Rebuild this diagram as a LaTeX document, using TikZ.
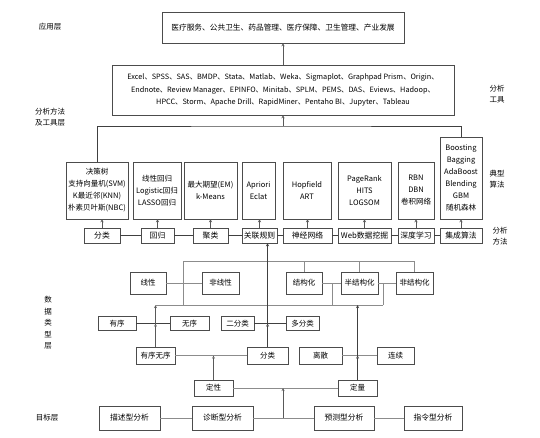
\documentclass[tikz,border=0pt]{standalone}
\usepackage{fontspec}
\setmainfont{Noto Sans CJK SC}
\usetikzlibrary{positioning}

\tikzset{
  box/.style={draw=black!70, fill=white, inner sep=1pt, align=center, font=\fontsize{7.5}{9}\selectfont},
  algbox/.style={box, minimum height=57pt, font=\fontsize{7.5}{12}\selectfont},
  methbox/.style={box, minimum height=15pt, font=\fontsize{7.8}{9}\selectfont},
  link/.style={draw=black!45},
  darklink/.style={draw=black!75},
  uparrow/.style={->, >=stealth, draw=black!65},
  layer/.style={align=center, font=\fontsize{7.5}{11.5}\selectfont},
}

\begin{document}
\begin{tikzpicture}[x=1pt, y=-1pt]
  \useasboundingbox (0,0) rectangle (540,437);

  % Application layer
  \node[box, minimum width=242pt, minimum height=31pt, font=\fontsize{7.7}{9}\selectfont] (app) at (283,27.5) {医疗服务、公共卫生、药品管理、医疗保障、卫生管理、产业发展};
  \node[layer] (lapp) at (50,27) {应用层};

  % Tools
  \node[box, minimum width=342pt, minimum height=50pt, font=\fontsize{7.3}{12.5}\selectfont] (tools) at (283,90)
    {Excel、SPSS、SAS、BMDP、Stata、Matlab、Weka、Sigmaplot、Graphpad Prism、Origin、\\
     Endnote、Review Manager、EPINFO、Minitab、SPLM、PEMS、DAS、Eviews、Hadoop、\\
     HPCC、Storm、Apache Drill、RapidMiner、Pentaho BI、Jupyter、Tableau};
  \node[layer] (ltools) at (497,94) {分析\\工具};
  \node[layer] (lmeth) at (50,117) {分析方法\\及工具层};
  \draw[uparrow] (tools.north) -- (app.south);

  % Typical algorithms
  \node[algbox, minimum width=62pt] (a1) at (97,190.5) {决策树\\支持向量机(SVM)\\K最近邻(KNN)\\朴素贝叶斯(NBC)};
  \node[algbox, minimum width=48pt] (a2) at (157,190.5) {线性回归\\Logistic回归\\LASSO回归};
  \node[algbox, minimum width=53pt] (a3) at (210.5,190.5) {最大期望(EM)\\k-Means};
  \node[algbox, minimum width=33pt] (a4) at (258.5,190.5) {Apriori\\Eclat};
  \node[algbox, minimum width=48pt] (a5) at (307,190.5) {Hopfield\\ART};
  \node[algbox, minimum width=53pt] (a6) at (364.5,190.5) {PageRank\\HITS\\LOGSOM};
  \node[algbox, minimum width=36pt] (a7) at (416,190.5) {RBN\\DBN\\卷积网络};
  \node[algbox, minimum width=42pt, minimum height=82pt] (a8) at (461,178) {Boosting\\Bagging\\AdaBoost\\Blending\\GBM\\随机森林};
  \node[layer] (lalg) at (497,179) {典型\\算法};

  % bus to tools
  \coordinate (bus) at (283,126);
  \draw[darklink] (a1.north) |- (bus) -| (a8.north);
  \draw[uparrow] (bus) -- (tools.south);

  % Analysis methods
  \node[methbox, minimum width=36pt] (m1) at (102,235.5) {分类};
  \node[methbox, minimum width=33pt] (m2) at (157.5,235.5) {回归};
  \node[methbox, minimum width=35pt] (m3) at (210.5,235.5) {聚类};
  \node[methbox, minimum width=35pt] (m4) at (259.5,235.5) {关联规则};
  \node[methbox, minimum width=49pt] (m5) at (307.5,235.5) {神经网络};
  \node[methbox, minimum width=53pt] (m6) at (364.5,235.5) {Web数据挖掘};
  \node[methbox, minimum width=36pt] (m7) at (416,235.5) {深度学习};
  \node[methbox, minimum width=42pt] (m8) at (461,235.5) {集成算法};
  \node[layer] (lana) at (500,236) {分析\\方法};

  \foreach \i in {1,...,8}
    \draw[uparrow] (m\i.north) -- (m\i.north |- a\i.south);
  \foreach \i/\j in {1/2,2/3,3/4,4/5,5/6,6/7,7/8}
    \draw[darklink] (m\i) -- (m\j);

  % Data types
  \node[box, minimum width=36pt, minimum height=22pt] (d1) at (148,283) {线性};
  \node[box, minimum width=37pt, minimum height=22pt] (d2) at (220.5,283) {非线性};
  \node[box, minimum width=36pt, minimum height=22pt] (d3) at (304,283) {结构化};
  \node[box, minimum width=37pt, minimum height=22pt] (d4) at (359.5,283) {半结构化};
  \node[box, minimum width=37pt, minimum height=22pt] (d5) at (414.5,283) {非结构化};

  \node[box, minimum width=38pt, minimum height=14pt] (e1) at (117,323.5) {有序};
  \node[box, minimum width=39pt, minimum height=14pt] (e2) at (189.5,323.5) {无序};
  \node[box, minimum width=33pt, minimum height=14pt] (e3) at (237.5,323.5) {二分类};
  \node[box, minimum width=33pt, minimum height=14pt] (e4) at (302.5,323.5) {多分类};

  \node[box, minimum width=39pt, minimum height=17pt] (f1) at (155.5,355.5) {有序无序};
  \node[box, minimum width=41pt, minimum height=17pt] (f2) at (267.5,355.5) {分类};
  \node[box, minimum width=43pt, minimum height=17pt] (f3) at (320.5,355.5) {离散};
  \node[box, minimum width=37pt, minimum height=17pt] (f4) at (395.5,355.5) {连续};

  \node[box, minimum width=39pt, minimum height=16pt] (g1) at (213.5,388) {定性};
  \node[box, minimum width=39pt, minimum height=16pt] (g2) at (357.5,388) {定量};

  \node[layer, font=\fontsize{7.5}{11.5}\selectfont] (ldata) at (48,323) {数\\据\\类\\型\\层};

  % upper tree
  \coordinate (t1) at (183,261);
  \coordinate (t2) at (414.5,261);
  \coordinate (b1) at (155.5,305);
  \coordinate (b2) at (383,305);
  \coordinate (s1) at (332,283);
  \coordinate (s2) at (383,283);
  \draw[link] (t1) -- (t2);
  \draw[link] (d3.north |- t1) -- (d3.north);
  \draw[link] (d4.north |- t1) -- (d4.north);
  \draw[link] (t2) -- (d5.north);
  \draw[link] (t1) -- (t1 |- b1);
  \draw[link] (b1) -- (b2);
  \draw[link] (d1) -- (d2);
  \draw[link] (d3) -- (d4);
  \draw[link] (d4) -- (d5);
  \draw[link] (s1) -- (s1 |- b1);
  \draw[link] (s2) -- (b2);

  % lower tree
  \draw[darklink] (e1) -- (e2);
  \draw[darklink] (e3) -- (e4);
  \draw[uparrow] (f1.north) -- (f1.north |- e1);
  \draw[uparrow] (f1.north |- e1) -- (b1);
  \coordinate (c1) at (f2.north |- e3);
  \draw[uparrow, black!75] (f2.north) -- (c1);
  \draw[uparrow, black!75] (c1) -- (c1 |- m4.south);
  \draw[link] (f1) -- (f2);
  \draw[link] (f3) -- (f4);
  \draw[uparrow] (g1.north) -- (g1.north |- f1);
  \draw[uparrow, black!75] (g2.north) -- (g2.north |- f3);
  \draw[uparrow, black!75] (g2.north |- f3) -- (g2.north |- b1);
  \draw[link] (g1) -- (g2);

  % Goal layer
  \node[box, minimum width=61pt, minimum height=24pt, font=\fontsize{7.8}{9}\selectfont] (h1) at (129.5,418) {描述型分析};
  \node[box, minimum width=61pt, minimum height=24pt, font=\fontsize{7.8}{9}\selectfont] (h2) at (222.5,418) {诊断型分析};
  \node[box, minimum width=60pt, minimum height=24pt, font=\fontsize{7.8}{9}\selectfont] (h3) at (344,418) {预测型分析};
  \node[box, minimum width=58pt, minimum height=24pt, font=\fontsize{7.8}{9}\selectfont] (h4) at (433,418) {指令型分析};
  \node[layer] (lgoal) at (47,418) {目标层};

  \draw[link] (h1) -- (h2);
  \draw[link] (h2) -- (h3);
  \draw[link] (h3) -- (h4);
  \coordinate (j) at (283,418);
  \draw[uparrow] (j) -- (j |- g1);
\end{tikzpicture}
\end{document}
